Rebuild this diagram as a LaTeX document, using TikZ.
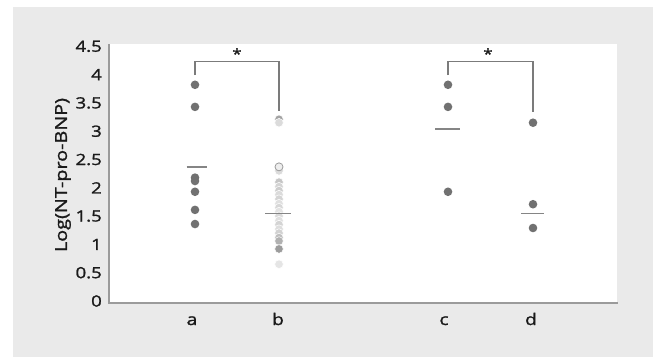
\documentclass[tikz,border=0pt]{standalone}
\usepackage{fontspec}
\setmainfont{Open Sans}
\newfontfamily\labfont[FakeBold=1.4, FakeStretch=1.2]{Open Sans}
\definecolor{bgpanel}{HTML}{EAEAEA}
\definecolor{axisgray}{HTML}{9B9B9B}
\definecolor{ptgray}{HTML}{717171}
\definecolor{meangray}{HTML}{858585}
\definecolor{brgray}{HTML}{7B7B7B}
\definecolor{txt}{HTML}{1A1A1A}
\tikzset{
  pt/.style={circle, inner sep=0pt, minimum size=8.6pt, fill=ptgray},
  bpt/.style={circle, inner sep=0pt, minimum size=8.6pt, fill=#1, draw=white, line width=0.5pt},
  meanline/.style={draw=meangray, line width=1.3pt},
  bracketline/.style={draw=brgray, line width=1.3pt},
  ticklab/.style={anchor=east, inner sep=0pt, font=\labfont\fontsize{15.5}{17}\selectfont, text=txt},
  catlab/.style={anchor=base, inner sep=0pt, font=\labfont\fontsize{16}{18}\selectfont, text=txt},
  starlab/.style={inner sep=0pt, font=\labfont\fontsize{14}{16}\selectfont, text=txt},
}
\begin{document}
\begin{tikzpicture}[x=1pt,y=-1pt]
\useasboundingbox (0,0) rectangle (653,357);
\fill[white] (0,0) rectangle (653,357);
\fill[bgpanel] (13,7) rectangle (653,357);
\fill[white] (109,44) rectangle (617,303);
\draw[axisgray, line width=1.5pt] (109,44) -- (109,303);
\draw[axisgray, line width=2pt] (108.25,303) -- (618,303);
\node[rotate=90, inner sep=0pt, font=\labfont\fontsize{16.5}{18}\selectfont, text=txt] (ylab) at (63,175) {Log(NT-pro-BNP)};
\foreach \x/\n in {192/a, 278/b, 444/c, 531/d}
  \node[catlab] (cat\n) at (\x,325) {\n};
\begin{scope}[shift={(0,301)}, y=56.6pt]
  \foreach \v/\i in {0/0, 0.5/1, 1/2, 1.5/3, 2/4, 2.5/5, 3/6, 3.5/7, 4/8, 4.5/9}
    \node[ticklab] (tick\i) at (102,\v) {\v};
  % group a
  \foreach \v [count=\k] in {3.82, 3.43, 2.18, 2.12, 1.93, 1.61, 1.36}
    \node[pt] (a\k) at (195,\v) {};
  % group b
  \node[bpt=ptgray!65] (b1) at (279,3.21) {};
  \node[bpt=ptgray!25] (b2) at (279,3.15) {};
  \foreach \v/\c [count=\k] in {2.30/25, 2.10/40, 2.02/30, 1.95/35, 1.88/25, 1.80/30, 1.72/22, 1.65/28, 1.58/20, 1.50/26, 1.42/22, 1.35/30, 1.27/24, 1.20/32, 1.12/45, 1.06/55, 0.92/70, 0.65/18}
    \node[bpt=ptgray!\c] (bb\k) at (279,\v) {};
  \node[circle, inner sep=0pt, minimum size=8pt, fill=ptgray!12, draw=ptgray!70, line width=0.8pt] (b3) at (279,2.37) {};
  % group c
  \foreach \v [count=\k] in {3.82, 3.43, 1.93}
    \node[pt] (c\k) at (448,\v) {};
  % group d
  \foreach \v [count=\k] in {3.15, 1.71, 1.29}
    \node[pt] (d\k) at (533,\v) {};
  % means
  \coordinate (ma1) at (186.5,2.37); \coordinate (ma2) at (206.5,2.37);
  \coordinate (mb1) at (265,1.55);   \coordinate (mb2) at (291,1.55);
  \coordinate (mc1) at (435,3.04);   \coordinate (mc2) at (460,3.04);
  \coordinate (md1) at (521,1.55);   \coordinate (md2) at (544,1.55);
  \draw[meanline] (ma1) -- (ma2);
  \draw[meanline] (mb1) -- (mb2);
  \draw[meanline] (mc1) -- (mc2);
  \draw[meanline] (md1) -- (md2);
  % brackets
  \coordinate (abL) at (195,3.99); \coordinate (abR) at (279,3.36);
  \coordinate (cdL) at (448,3.99); \coordinate (cdR) at (533,3.34);
  \coordinate (abtop) at (237,4.23); \coordinate (cdtop) at (490.5,4.23);
  \draw[bracketline] (abL) |- (abtop) -| (abR);
  \draw[bracketline] (cdL) |- (cdtop) -| (cdR);
  \node[starlab] (s1) at (237,4.37) {*};
  \node[starlab] (s2) at (488,4.37) {*};
\end{scope}
\end{tikzpicture}
\end{document}
